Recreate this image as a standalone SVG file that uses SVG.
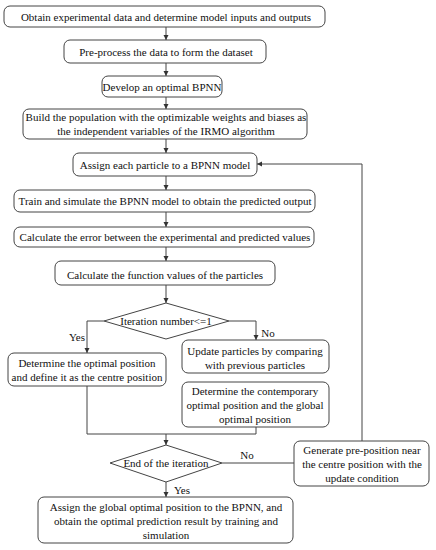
<svg xmlns="http://www.w3.org/2000/svg" width="436" height="550" viewBox="0 0 436 550">
<style>
.b{fill:#fff;stroke:#444;stroke-width:1}
.t{font-family:"Liberation Serif","Times New Roman",serif;font-size:11px;fill:#111;text-anchor:middle}
.c{fill:none;stroke:#444;stroke-width:1}
</style>
<defs>
<marker id="ah" markerWidth="6" markerHeight="6" refX="5" refY="3" orient="auto" markerUnits="userSpaceOnUse">
<path d="M0,0.5 L5,3 L0,5.5 Z" fill="#333"/>
</marker>
</defs>
<rect width="436" height="550" fill="#fff"/>
<g id="connectors">
<path class="c" d="M166,27 V40" marker-end="url(#ah)"/>
<path class="c" d="M166,63 V76" marker-end="url(#ah)"/>
<path class="c" d="M166,97 V109" marker-end="url(#ah)"/>
<path class="c" d="M166,139 V153" marker-end="url(#ah)"/>
<path class="c" d="M166,176 V190" marker-end="url(#ah)"/>
<path class="c" d="M166,212 V227" marker-end="url(#ah)"/>
<path class="c" d="M166,247 V261" marker-end="url(#ah)"/>
<path class="c" d="M166,285 V303" marker-end="url(#ah)"/>
<path class="c" d="M104,321 H87 V353" marker-end="url(#ah)"/>
<path class="c" d="M229,321 H256 V340" marker-end="url(#ah)"/>
<path class="c" d="M87,386 V434 H256 V427"/>
<path class="c" d="M166,434 V445" marker-end="url(#ah)"/>
<path class="c" d="M222,463 H294"/>
<path class="c" d="M362,441 V164 H257" marker-end="url(#ah)"/>
<path class="c" d="M166,482 V497" marker-end="url(#ah)"/>
<text class="t" x="77" y="341">Yes</text>
<text class="t" x="268" y="337">No</text>
<text class="t" x="247" y="459">No</text>
<text class="t" x="182" y="494">Yes</text>
</g>
<g id="n1"><rect class="b" x="4" y="6" width="321" height="21" rx="6"/><text class="t" x="166" y="21">Obtain experimental data and determine model inputs and outputs</text></g>
<g id="n2"><rect class="b" x="64" y="40" width="202" height="23" rx="6"/><text class="t" x="166" y="56">Pre-process the data to form the dataset</text></g>
<g id="n3"><rect class="b" x="102" y="76" width="120" height="21" rx="6"/><text class="t" x="162" y="91">Develop an optimal BPNN</text></g>
<g id="n4"><rect class="b" x="23" y="109" width="284" height="30" rx="6"/><text class="t" x="166" y="121">Build the population with the optimizable weights and biases as</text><text class="t" x="166" y="135">the independent variables of the IRMO algorithm</text></g>
<g id="n5"><rect class="b" x="73" y="153" width="184" height="23" rx="6"/><text class="t" x="165" y="169">Assign each particle to a BPNN model</text></g>
<g id="n6"><rect class="b" x="14" y="190" width="301" height="22" rx="6"/><text class="t" x="165" y="205">Train and simulate the BPNN model to obtain the predicted output</text></g>
<g id="n7"><rect class="b" x="14" y="227" width="300" height="20" rx="6"/><text class="t" x="165" y="241">Calculate the error between the experimental and predicted values</text></g>
<g id="n8"><rect class="b" x="55" y="261" width="220" height="24" rx="6"/><text class="t" x="165" y="279">Calculate the function values of the particles</text></g>
<g id="d1"><path class="b" d="M166,303 L229,321 L166,339 L104,321 Z"/><text class="t" x="166" y="325">Iteration number&lt;=1</text></g>
<g id="n9"><rect class="b" x="8" y="353" width="158" height="33" rx="6"/><text class="t" x="87" y="367">Determine the optimal position</text><text class="t" x="87" y="381">and define it as the centre position</text></g>
<g id="n10"><rect class="b" x="182" y="340" width="147" height="33" rx="6"/><text class="t" x="255" y="355">Update particles  by comparing</text><text class="t" x="255" y="369">with previous particles</text></g>
<g id="n11"><rect class="b" x="182" y="382" width="147" height="45" rx="6"/><text class="t" x="255" y="395">Determine the contemporary</text><text class="t" x="255" y="409">optimal position and the global</text><text class="t" x="255" y="423">optimal position</text></g>
<g id="d2"><path class="b" d="M166,445 L222,463 L166,482 L110,463 Z"/><text class="t" x="166" y="467">End of the iteration</text></g>
<g id="n12"><rect class="b" x="294" y="441" width="135" height="45" rx="6"/><text class="t" x="362" y="454">Generate pre-position near</text><text class="t" x="362" y="468">the centre position with the</text><text class="t" x="362" y="482">update condition</text></g>
<g id="n13"><rect class="b" x="38" y="497" width="255" height="46" rx="6"/><text class="t" x="166" y="511">Assign the global optimal position to the BPNN, and</text><text class="t" x="166" y="525">obtain the optimal prediction result by training and</text><text class="t" x="166" y="539">simulation</text></g>
</svg>
